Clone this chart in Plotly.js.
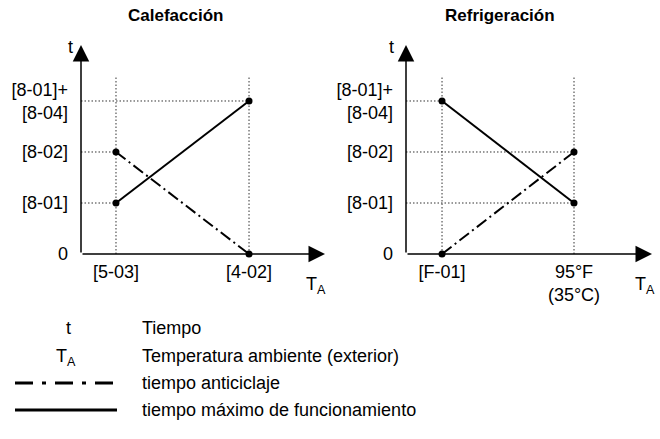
<!DOCTYPE html>
<html>
<head>
<meta charset="utf-8">
<script src="https://cdn.plot.ly/plotly-3.0.1.min.js"></script>
<style>
  html, body { margin: 0; padding: 0; background: #fff; }
  #chart { width: 660px; height: 439px; }
</style>
</head>
<body>
<div id="chart"></div>
<script>
// setpoint positions on the T_A axis (first / second field setting)
const xPos = [1, 2];
const heatTicks = ['[5-03]', '[4-02]'];
const coolTicks = ['[F-01]', '95°F<br>(35°C)'];

// t levels: 0, [8-01], [8-02], [8-01]+[8-04]
const yLevels = [0, 1, 2, 3];
const yTicks = ['0', '[8-01]', '[8-02]', '[8-01]+<br>[8-04]'];

const heatMaxRun = [1, 3];
const heatAntiCycle = [2, 0];
const coolMaxRun = [3, 1];
const coolAntiCycle = [0, 2];

const guideTop = 3.5;

const FONT = '"Liberation Sans", Arial, Helvetica, sans-serif';
const DASHDOT = '12px,4px,2px,4px';
const DOTS = '1.5px,2px';

function lineTrace(x, y, xa, ya, dash) {
  return {
    type: 'scatter', mode: 'lines+markers', x: x, y: y, xaxis: xa, yaxis: ya,
    line: { color: '#000', width: 2, dash: dash },
    marker: { color: '#000', size: 7 },
    cliponaxis: false, hoverinfo: 'skip', showlegend: false,
  };
}

function guides(xmin, series, xa, ya) {
  const out = [];
  xPos.forEach(xv => out.push({
    type: 'scatter', mode: 'lines', x: [xv, xv], y: [0, guideTop], xaxis: xa, yaxis: ya,
    line: { color: '#333', width: 1, dash: DOTS }, hoverinfo: 'skip', showlegend: false,
  }));
  series.forEach(s => s.forEach((yv, i) => {
    if (yv > 0) out.push({
      type: 'scatter', mode: 'lines', x: [xmin, xPos[i]], y: [yv, yv], xaxis: xa, yaxis: ya,
      line: { color: '#333', width: 1, dash: DOTS }, hoverinfo: 'skip', showlegend: false,
    });
  }));
  return out;
}

const heatRange = [0.737, 2.571];
const coolRange = [0.727, 2.591];
const yRange = [0, 4.098];

const data = [
  ...guides(heatRange[0], [heatMaxRun, heatAntiCycle], 'x', 'y'),
  ...guides(coolRange[0], [coolMaxRun, coolAntiCycle], 'x2', 'y2'),
  lineTrace(xPos, heatMaxRun, 'x', 'y', 'solid'),
  lineTrace(xPos, heatAntiCycle, 'x', 'y', DASHDOT),
  lineTrace(xPos, coolMaxRun, 'x2', 'y2', 'solid'),
  lineTrace(xPos, coolAntiCycle, 'x2', 'y2', DASHDOT),
];

function xAxis(domain, range, ticks) {
  return {
    domain: domain, range: range, tickvals: xPos, ticktext: ticks,
    showgrid: false, zeroline: false, showline: false, ticks: '',
    ticklabelstandoff: 5, tickfont: { size: 18, color: '#000' }, fixedrange: true,
  };
}
function yAxis(anchor) {
  return {
    domain: [0.4214, 0.8975], range: yRange, anchor: anchor,
    tickvals: yLevels, ticktext: yTicks,
    showgrid: false, zeroline: false, showline: false, ticks: '',
    ticklabelstandoff: 12, tickfont: { size: 18, color: '#000' }, fixedrange: true,
  };
}

function axisArrow(xa, ya, x, y, ax, ay) {
  return {
    xref: xa, yref: ya, axref: xa, ayref: ya, x: x, y: y, ax: ax, ay: ay, text: '',
    showarrow: true, arrowhead: 2, arrowsize: 2.2, arrowwidth: 1.5, arrowcolor: '#000', standoff: 0,
  };
}
function label(text, x, y, opts) {
  return Object.assign({
    xref: 'paper', yref: 'paper', x: x / 660, y: 1 - y / 439, text: text, showarrow: false,
    xanchor: 'center', yanchor: 'middle', font: { size: 18, color: '#000', family: FONT },
  }, opts || {});
}

const annotations = [
  axisArrow('x', 'y', heatRange[0], yRange[1], heatRange[0], 0),
  axisArrow('x', 'y', heatRange[1], 0, heatRange[0], 0),
  axisArrow('x2', 'y2', coolRange[0], yRange[1], coolRange[0], 0),
  axisArrow('x2', 'y2', coolRange[1], 0, coolRange[0], 0),
  label('<b>Calefacción</b>', 175, 16, { font: { size: 17, color: '#000', family: FONT } }),
  label('<b>Refrigeración</b>', 500, 16, { font: { size: 17, color: '#000', family: FONT } }),
  label('t', 70, 47),
  label('t', 391, 47),
  label('T<sub>A</sub>', 316, 285),
  label('T<sub>A</sub>', 645, 285),
  label('t', 68, 328),
  label('T<sub>A</sub>', 66, 357),
  label('Tiempo', 140, 328, { xanchor: 'left' }),
  label('Temperatura ambiente (exterior)', 140, 356, { xanchor: 'left' }),
  label('tiempo anticiclaje', 140, 383, { xanchor: 'left' }),
  label('tiempo máximo de funcionamiento', 140, 410, { xanchor: 'left' }),
];

const shapes = [
  { type: 'line', xref: 'paper', yref: 'paper', x0: 15 / 660, x1: 117 / 660, y0: 1 - 383 / 439, y1: 1 - 383 / 439,
    line: { color: '#000', width: 3, dash: '18px,9px,4px,9px' } },
  { type: 'line', xref: 'paper', yref: 'paper', x0: 15 / 660, x1: 117 / 660, y0: 1 - 410 / 439, y1: 1 - 410 / 439,
    line: { color: '#000', width: 3 } },
];

const layout = {
  width: 660, height: 439,
  margin: { l: 0, r: 0, t: 0, b: 0 },
  paper_bgcolor: '#fff', plot_bgcolor: 'rgba(0,0,0,0)',
  font: { family: FONT, size: 18, color: '#000' },
  showlegend: false,
  xaxis: xAxis([81 / 660, 325 / 660], heatRange, heatTicks),
  yaxis: yAxis('x'),
  xaxis2: xAxis([406 / 660, 652 / 660], coolRange, coolTicks),
  yaxis2: yAxis('x2'),
  annotations: annotations,
  shapes: shapes,
};

Plotly.newPlot('chart', data, layout, { displayModeBar: false, staticPlot: true });
</script>
</body>
</html>
